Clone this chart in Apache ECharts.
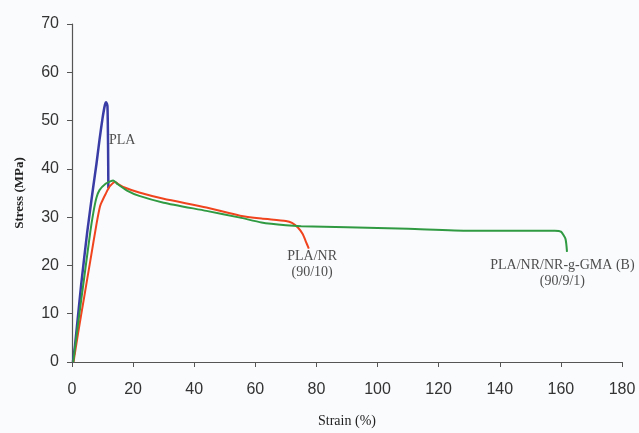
<!DOCTYPE html>
<html><head><meta charset="utf-8">
<script src="https://cdn.jsdelivr.net/npm/echarts@6/dist/echarts.min.js"></script>
<style>html,body{margin:0;padding:0;background:#fff}#c{width:639px;height:433px}</style>
</head><body><div id="c"></div>
<script>
// Strain (%) , Stress (MPa)
const plaData = [[0.3,0],[1,3.5],[3,16],[5,27],[7,36.5],[8,41],[9,46],[10,50.5],[10.8,53.3],[11.2,53.8],[11.6,53],[11.8,45],[11.9,36]];
const plaNrData = [[0.5,0],[2,6],[4,13.5],[6,21],[8,28.5],[9.2,32.3],[10,33.5],[11,34.8],[12.4,36.4],[14.1,37.3],[15,36.9],[17,36.2],[22,35.1],[30,33.8],[44,32.0],[55,30.3],[62,29.7],[70,29.2],[72,28.8],[74,27.8],[75.5,26.5],[76.5,25],[77.5,23.5]];
const plaNrGmaData = [[0.4,0],[2,8],[4,17.5],[6,27],[7,31],[8,34],[9,35.6],[11,36.9],[12.5,37.4],[13.5,37.6],[15,36.8],[18,35.5],[22,34.4],[30,33],[44,31.3],[55,29.9],[62,28.9],[70,28.3],[75,28.1],[90,27.9],[110,27.6],[130,27.2],[158,27.2],[160,27],[161.5,25.5],[162,22.8]];
const seriesNames = ['PLA','PLA/NR (90/10)','PLA/NR/NR-g-GMA (B) (90/9/1)'];
// annotation labels: [x, y, text, align]
const annotations = [[12.1,47.5,'PLA','left'],[78.6,23.6,'PLA/NR\n(90/10)','center'],[160.5,21.6,'PLA/NR/NR-g-GMA (B)\n(90/9/1)','center']];
const xTicks = {min:0,max:180,interval:20};
const yTicks = {min:0,max:70,interval:10};

const chart = echarts.init(document.getElementById('c'));
const lineSeries = (name,data,color,w)=>({name,type:'line',data,showSymbol:false,smooth:0.2,lineStyle:{color,width:w},itemStyle:{color},z:3,animation:false});
chart.setOption({
  backgroundColor:'#fafbfd',
  animation:false,
  grid:{left:72,right:17,top:24,bottom:69.5},
  xAxis:{type:'value',min:xTicks.min,max:xTicks.max,interval:xTicks.interval,
    name:'Strain (%)',nameLocation:'middle',nameGap:52,
    nameTextStyle:{fontFamily:'Liberation Serif',fontSize:14,color:'#222'},
    axisLine:{lineStyle:{color:'#555',width:1.2}},axisTick:{show:true,length:5,lineStyle:{color:'#555'}},
    axisLabel:{fontFamily:'Liberation Sans',fontSize:16,color:'#333',margin:20},splitLine:{show:false}},
  yAxis:{type:'value',min:yTicks.min,max:yTicks.max,interval:yTicks.interval,
    name:'Stress (MPa)',nameLocation:'middle',nameGap:46,
    nameTextStyle:{fontFamily:'Liberation Serif',fontSize:13,fontWeight:'bold',color:'#222'},
    axisLine:{show:true,lineStyle:{color:'#555',width:1.2}},axisTick:{show:true,length:5,lineStyle:{color:'#555'}},
    axisLabel:{fontFamily:'Liberation Sans',fontSize:16,color:'#333',margin:13},splitLine:{show:false}},
  series:[
    lineSeries(seriesNames[0],plaData,'#3a3ca6',2.5),
    lineSeries(seriesNames[1],plaNrData,'#f0441e',2),
    lineSeries(seriesNames[2],plaNrGmaData,'#2f9a42',2),
    {type:'scatter',symbolSize:0,silent:true,data:annotations.map(a=>({value:[a[0],a[1]],label:{formatter:a[2],align:a[3]}})),
      label:{show:true,position:[0,0],verticalAlign:'top',fontFamily:'Liberation Serif',fontSize:14,color:'#222',lineHeight:16},z:5}
  ]
});
</script></body></html>
